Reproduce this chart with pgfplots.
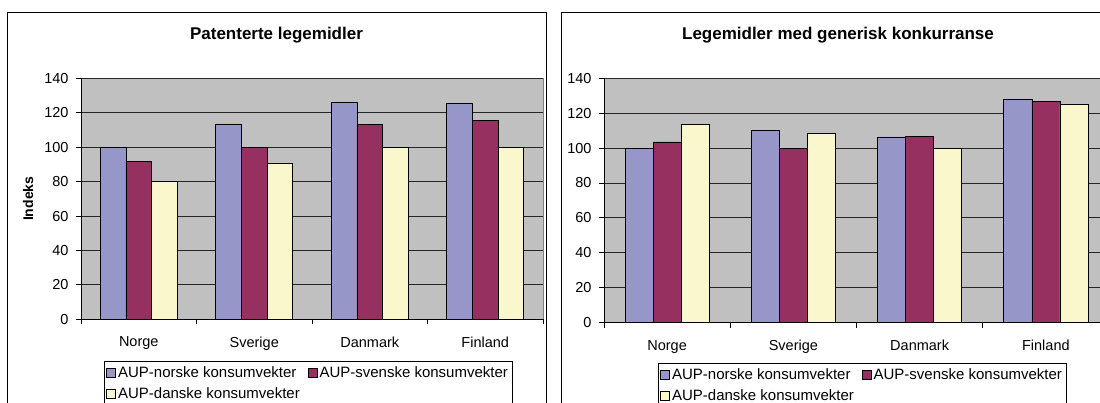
\documentclass[border=0pt]{standalone}
\usepackage{fontspec}
\setmainfont{Liberation Sans}
\usepackage{pgfplots}
\pgfplotsset{compat=1.18}
\definecolor{sNo}{RGB}{150,150,200}
\definecolor{sSv}{RGB}{150,48,96}
\definecolor{sDk}{RGB}{250,247,205}
\definecolor{plotbg}{RGB}{192,192,192}
\pgfplotsset{
  excel/.style={
    scale only axis,
    ybar, bar width=0.2222,
    xmin=-0.5, xmax=3.5, ymin=0, ymax=140,
    ytick={0,20,...,140},
    xtick={0,1,2,3},
    xticklabels={Norge,Sverige,Danmark,Finland},
    minor xtick={-0.5,0.5,1.5,2.5,3.5},
    axis x line*=bottom, axis y line*=left,
    axis line style={black, line width=0.8pt, -},
    tick align=outside,
    major tick length=5pt, minor tick length=5pt,
    major x tick style={draw=none},
    minor x tick style={black, line width=0.8pt},
    ytick style={black, line width=0.8pt},
    ymajorgrids, major grid style={black!85, line width=0.8pt},
    axis background/.style={fill=plotbg, draw=black!50, line width=0.8pt},
    tick label style={font=\fontsize{14.5pt}{17pt}\selectfont},
    xticklabel style={yshift=-9pt},
    yticklabel style={xshift=-4pt},
    /pgf/number format/assume math mode=true,
    legend columns=2,
    legend cell align=left,
    legend style={draw=black, line width=0.8pt, fill=white,
      font=\fontsize{15pt}{17pt}\selectfont, anchor=north west,
      inner xsep=2pt, inner ysep=3pt, row sep=5pt,
      /tikz/every even column/.append style={column sep=6pt}},
    legend image code/.code={\draw[##1] (0pt,-4.5pt) rectangle (9pt,4.5pt);},
    every axis plot/.append style={draw=black, line width=0.7pt},
  }
}
\begin{document}
\begin{tikzpicture}[x=1pt,y=1pt]
\useasboundingbox (0,0) rectangle (1100,402);
\clip (0,0) rectangle (1100,402);
% chart frames
\draw[line width=0.8pt] (7,-20) rectangle (546,390);
\draw[line width=0.8pt] (561,-20) rectangle (1115,390);
\node[anchor=base, font=\fontsize{17pt}{20pt}\selectfont\bfseries] at (276.5,362.7) {Patenterte legemidler};
\node[anchor=base, font=\fontsize{17pt}{20pt}\selectfont\bfseries] at (838,362.7) {Legemidler med generisk konkurranse};

\begin{axis}[excel, at={(81pt,82.7pt)}, anchor=south west,
  width=462pt, height=241pt,
  ylabel={Indeks},
  ylabel style={at={(rel axis cs:-0.1147,0.5)}, anchor=center, rotate=0,
    font=\fontsize{14pt}{16pt}\selectfont\bfseries},
  legend style={at={(rel axis cs:0.0498,-0.173)}}]
\addplot[fill=sNo, bar shift=-0.2222] coordinates {(0,100) (1,113.5) (2,126) (3,125.5)};
\addplot[fill=sSv, bar shift=0] coordinates {(0,91.5) (1,100) (2,113.3) (3,115.4)};
\addplot[fill=sDk, bar shift=0.2222] coordinates {(0,80) (1,90.8) (2,100) (3,100)};
\legend{AUP-norske konsumvekter, AUP-svenske konsumvekter, AUP-danske konsumvekter}
\end{axis}

\begin{axis}[excel, at={(604pt,79.5pt)}, anchor=south west,
  width=505pt, height=244.2pt,
  legend style={at={(rel axis cs:0.107,-0.167)}}]
\addplot[fill=sNo, bar shift=-0.2222] coordinates {(0,100) (1,110) (2,106.4) (3,128)};
\addplot[fill=sSv, bar shift=0] coordinates {(0,103.5) (1,100) (2,106.8) (3,126.5)};
\addplot[fill=sDk, bar shift=0.2222] coordinates {(0,113.5) (1,108.4) (2,100) (3,125)};
\legend{AUP-norske konsumvekter, AUP-svenske konsumvekter, AUP-danske konsumvekter}
\end{axis}
\end{tikzpicture}
\end{document}
